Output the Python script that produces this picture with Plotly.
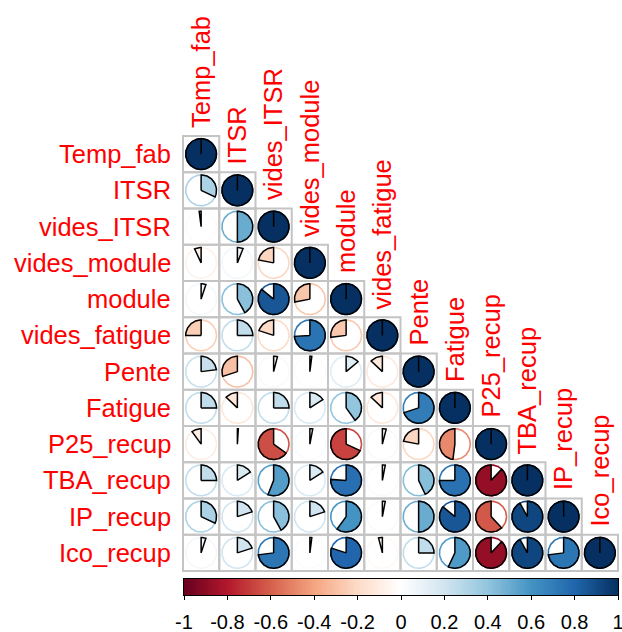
import numpy as np
import plotly.graph_objects as go

variables = ["Temp_fab", "ITSR", "vides_ITSR", "vides_module", "module",
             "vides_fatigue", "Pente", "Fatigue", "P25_recup", "TBA_recup",
             "IP_recup", "Ico_recup"]

# lower-triangle correlations (row i, columns 0..i-1)
corr_rows = [
    [],
    [0.32],
    [-0.02, 0.50],
    [-0.07, 0.06, -0.22],
    [0.05, 0.42, 0.86, -0.28],
    [-0.25, 0.25, -0.20, 0.74, -0.27],
    [0.23, -0.30, 0.04, 0.02, 0.14, -0.13],
    [0.25, -0.13, 0.25, 0.16, 0.40, -0.13, 0.70],
    [-0.10, 0.01, -0.65, 0.03, -0.68, 0.04, -0.22, -0.48],
    [0.25, 0.16, 0.56, 0.16, 0.76, 0.03, 0.43, 0.75, -0.88],
    [0.32, 0.20, 0.42, 0.20, 0.60, 0.03, 0.50, 0.86, -0.62, 0.92],
    [0.05, 0.20, 0.73, 0.02, 0.80, -0.04, 0.25, 0.57, -0.88, 0.92, 0.73],
]

colorbar_ticks = [-1, -0.8, -0.6, -0.4, -0.2, 0, 0.2, 0.4, 0.6, 0.8, 1]
colorbar_labels = ["-1", "-0.8", "-0.6", "-0.4", "-0.2", "0", "0.2", "0.4", "0.6", "0.8", "1"]

palette = ["#67001F", "#B2182B", "#D6604D", "#F4A582", "#FDDBC7", "#FFFFFF",
           "#D1E5F0", "#92C5DE", "#4393C3", "#2166AC", "#053061"]

n = len(variables)
M = np.eye(n)
for i, row in enumerate(corr_rows):
    for j, v in enumerate(row):
        M[i, j] = v
        M[j, i] = v


def hex2rgb(h):
    h = h.lstrip("#")
    return [int(h[k:k + 2], 16) for k in (0, 2, 4)]


def col_for(r):
    pos = (r + 1) / 2 * (len(palette) - 1)
    i = int(np.floor(pos))
    i = max(0, min(i, len(palette) - 2))
    f = pos - i
    a, b = hex2rgb(palette[i]), hex2rgb(palette[i + 1])
    c = [round(a[k] + (b[k] - a[k]) * f) for k in range(3)]
    return "rgb(%d,%d,%d)" % tuple(c)


# pixel geometry
W, H = 622, 632
X0, Y0, CELL = 183.0, 136.0, 36.25
R = 0.425
FONT = "Liberation Sans, Arial, sans-serif"
LABEL_SIZE = 25.5

fig = go.Figure()

shapes = []
for i in range(n):
    for j in range(i + 1):
        shapes.append(dict(type="rect", xref="x", yref="y", x0=j, x1=j + 1, y0=i, y1=i + 1,
                           line=dict(color="#c4c4c4", width=2), layer="below"))

ang = np.linspace(0, 2 * np.pi, 120)
for i in range(n):
    for j in range(i + 1):
        r = M[i, j]
        c = col_for(r)
        cx, cy = j + 0.5, i + 0.5
        fig.add_trace(go.Scatter(x=cx + R * np.cos(ang), y=cy - R * np.sin(ang), mode="lines",
                                 line=dict(color=c, width=1.6), hoverinfo="skip", showlegend=False))
        theta = 2 * np.pi * r
        npts = max(3, int(100 * abs(theta) / np.pi))
        k = np.linspace(np.pi / 2, np.pi / 2 - theta, npts)
        px = np.concatenate([[cx], cx + R * np.cos(k), [cx]])
        py = np.concatenate([[cy], cy - R * np.sin(k), [cy]])
        fig.add_trace(go.Scatter(x=px, y=py, mode="lines", fill="toself", fillcolor=c,
                                 line=dict(color="black", width=1.5), hoverinfo="skip",
                                 showlegend=False))

annotations = []
for i, name in enumerate(variables):
    annotations.append(dict(x=-0.27, y=i + 0.5, xref="x", yref="y", text=name, showarrow=False,
                            xanchor="right", yanchor="middle",
                            font=dict(family=FONT, size=LABEL_SIZE, color="#FF0000")))
    annotations.append(dict(x=i + 0.5, y=i - 0.17, xref="x", yref="y", text=name, showarrow=False,
                            textangle=-90, xanchor="center", yanchor="bottom",
                            font=dict(family=FONT, size=LABEL_SIZE, color="#FF0000")))

# colour bar as heatmap on second axes
cb_x = np.linspace(-1 + 0.005, 1 - 0.005, 200)
cscale = [[k / (len(palette) - 1), p] for k, p in enumerate(palette)]
fig.add_trace(go.Heatmap(x=cb_x, y=[0], z=[cb_x], zmin=-1, zmax=1, colorscale=cscale,
                         showscale=False, xaxis="x2", yaxis="y2", hoverinfo="skip"))

fig.update_layout(
    width=W, height=H, margin=dict(l=0, r=0, t=0, b=0, pad=0, autoexpand=False),
    paper_bgcolor="white", plot_bgcolor="white",
    xaxis=dict(range=[-X0 / CELL, (W - X0) / CELL], visible=False, domain=[0, 1], fixedrange=True),
    yaxis=dict(range=[(H - Y0) / CELL, -Y0 / CELL], visible=False, domain=[0, 1], fixedrange=True),
    xaxis2=dict(domain=[184 / W, 618 / W], anchor="y2", range=[-1, 1], tickvals=colorbar_ticks,
                ticktext=colorbar_labels, ticks="outside", ticklen=4, tickwidth=1, tickcolor="black",
                showline=True, linecolor="black", linewidth=1, mirror=True, showgrid=False,
                zeroline=False, ticklabeloverflow="allow", ticklabelstandoff=5,
                automargin=False,
                tickfont=dict(family=FONT, size=20, color="black")),
    yaxis2=dict(domain=[1 - 595 / H, 1 - 579 / H], anchor="x2", range=[-0.5, 0.5],
                showticklabels=False, ticks="", showline=True, linecolor="black", linewidth=1,
                mirror=True, showgrid=False, zeroline=False, automargin=False),
    shapes=shapes, annotations=annotations, showlegend=False,
)

fig.write_html("out.html")
